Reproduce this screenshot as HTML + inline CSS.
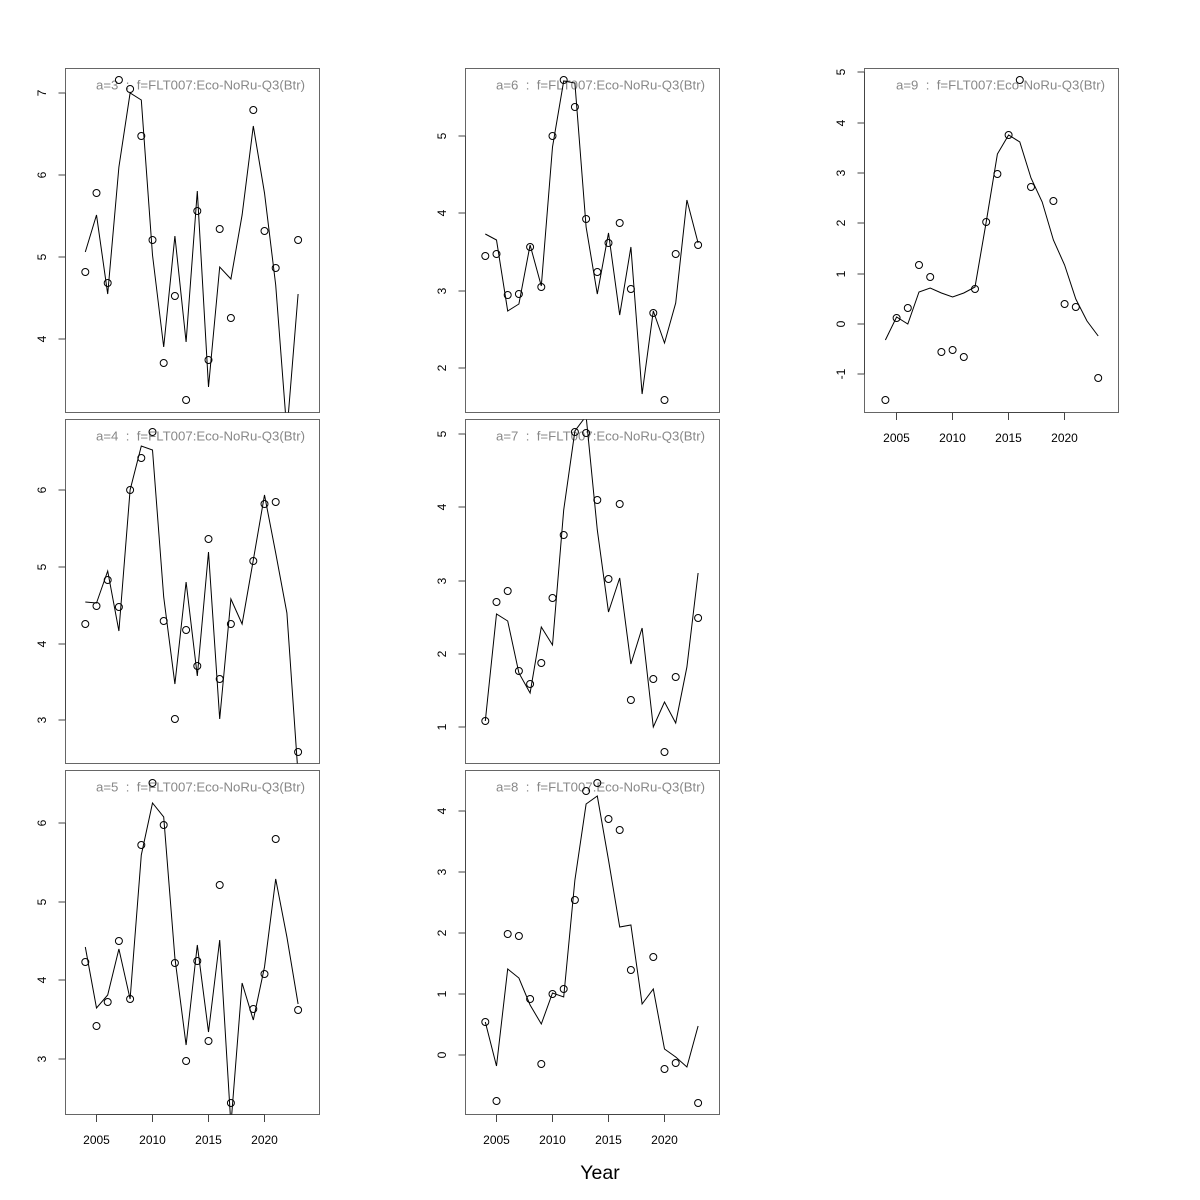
<!DOCTYPE html>
<html>
<head>
<meta charset="utf-8">
<style>
html,body{margin:0;padding:0;background:#fff;}
svg{display:block;}
text{font-family:"Liberation Sans",Arial,sans-serif;}
</style>
</head>
<body>
<svg width="1200" height="1200" viewBox="0 0 1200 1200" xmlns="http://www.w3.org/2000/svg">
<rect width="1200" height="1200" fill="#fff"/>
<defs>
<clipPath id="c3"><rect x="65.5" y="68.5" width="254" height="344"/></clipPath>
<clipPath id="c4"><rect x="65.5" y="419.5" width="254" height="344"/></clipPath>
<clipPath id="c5"><rect x="65.5" y="770.5" width="254" height="344"/></clipPath>
<clipPath id="c6"><rect x="465.5" y="68.5" width="254" height="344"/></clipPath>
<clipPath id="c7"><rect x="465.5" y="419.5" width="254" height="344"/></clipPath>
<clipPath id="c8"><rect x="465.5" y="770.5" width="254" height="344"/></clipPath>
<clipPath id="c9"><rect x="864.5" y="68.5" width="254" height="344"/></clipPath>
</defs>

<!-- Frames -->
<g fill="none" stroke="#666" stroke-width="1">
<rect x="65.5" y="68.5" width="254" height="344"/>
<rect x="65.5" y="419.5" width="254" height="344"/>
<rect x="65.5" y="770.5" width="254" height="344"/>
<rect x="465.5" y="68.5" width="254" height="344"/>
<rect x="465.5" y="419.5" width="254" height="344"/>
<rect x="465.5" y="770.5" width="254" height="344"/>
<rect x="864.5" y="68.5" width="254" height="344"/>
</g>

<!-- Y axes -->
<g stroke="#444" stroke-width="1" fill="none">
<path d="M65.5,93 V339 M58.5,93 H65.5 M58.5,175 H65.5 M58.5,257 H65.5 M58.5,339 H65.5"/>
<path d="M65.5,490 V720 M58.5,490 H65.5 M58.5,567 H65.5 M58.5,644 H65.5 M58.5,720 H65.5"/>
<path d="M65.5,823 V1059 M58.5,823 H65.5 M58.5,902 H65.5 M58.5,980 H65.5 M58.5,1059 H65.5"/>
<path d="M465.5,136 V368 M458.5,136 H465.5 M458.5,213 H465.5 M458.5,291 H465.5 M458.5,368 H465.5"/>
<path d="M465.5,434 V727 M458.5,434 H465.5 M458.5,507 H465.5 M458.5,581 H465.5 M458.5,654 H465.5 M458.5,727 H465.5"/>
<path d="M465.5,811 V1055 M458.5,811 H465.5 M458.5,872 H465.5 M458.5,933 H465.5 M458.5,994 H465.5 M458.5,1055 H465.5"/>
<path d="M864.5,72 V374 M857.5,72 H864.5 M857.5,123 H864.5 M857.5,173 H864.5 M857.5,223 H864.5 M857.5,274 H864.5 M857.5,324 H864.5 M857.5,374 H864.5"/>
</g>

<!-- X axes -->
<g stroke="#444" stroke-width="1" fill="none">
<path d="M96.5,1114.5 H264.5 M96.5,1114.5 V1122 M152.5,1114.5 V1122 M208.5,1114.5 V1122 M264.5,1114.5 V1122"/>
<path d="M496.5,1114.5 H664.5 M496.5,1114.5 V1122 M552.5,1114.5 V1122 M608.5,1114.5 V1122 M664.5,1114.5 V1122"/>
<path d="M896.5,412.5 H1064.5 M896.5,412.5 V420 M952.5,412.5 V420 M1008.5,412.5 V420 M1064.5,412.5 V420"/>
</g>

<!-- Y tick labels -->
<g font-size="12" fill="#000" text-anchor="middle">
<text transform="translate(46,93) rotate(-90)">7</text>
<text transform="translate(46,175) rotate(-90)">6</text>
<text transform="translate(46,257) rotate(-90)">5</text>
<text transform="translate(46,339) rotate(-90)">4</text>

<text transform="translate(46,490) rotate(-90)">6</text>
<text transform="translate(46,567) rotate(-90)">5</text>
<text transform="translate(46,644) rotate(-90)">4</text>
<text transform="translate(46,720) rotate(-90)">3</text>

<text transform="translate(46,823) rotate(-90)">6</text>
<text transform="translate(46,902) rotate(-90)">5</text>
<text transform="translate(46,980) rotate(-90)">4</text>
<text transform="translate(46,1059) rotate(-90)">3</text>

<text transform="translate(446,136) rotate(-90)">5</text>
<text transform="translate(446,213) rotate(-90)">4</text>
<text transform="translate(446,291) rotate(-90)">3</text>
<text transform="translate(446,368) rotate(-90)">2</text>

<text transform="translate(446,434) rotate(-90)">5</text>
<text transform="translate(446,507) rotate(-90)">4</text>
<text transform="translate(446,581) rotate(-90)">3</text>
<text transform="translate(446,654) rotate(-90)">2</text>
<text transform="translate(446,727) rotate(-90)">1</text>

<text transform="translate(446,811) rotate(-90)">4</text>
<text transform="translate(446,872) rotate(-90)">3</text>
<text transform="translate(446,933) rotate(-90)">2</text>
<text transform="translate(446,994) rotate(-90)">1</text>
<text transform="translate(446,1055) rotate(-90)">0</text>

<text transform="translate(845,72) rotate(-90)">5</text>
<text transform="translate(845,123) rotate(-90)">4</text>
<text transform="translate(845,173) rotate(-90)">3</text>
<text transform="translate(845,223) rotate(-90)">2</text>
<text transform="translate(845,274) rotate(-90)">1</text>
<text transform="translate(845,324) rotate(-90)">0</text>
<text transform="translate(845,374) rotate(-90)">-1</text>
</g>

<!-- X tick labels -->
<g font-size="12" fill="#000" text-anchor="middle">
<text x="96.5" y="1144">2005</text>
<text x="152.5" y="1144">2010</text>
<text x="208.5" y="1144">2015</text>
<text x="264.5" y="1144">2020</text>
<text x="496.5" y="1144">2005</text>
<text x="552.5" y="1144">2010</text>
<text x="608.5" y="1144">2015</text>
<text x="664.5" y="1144">2020</text>
<text x="896.5" y="442">2005</text>
<text x="952.5" y="442">2010</text>
<text x="1008.5" y="442">2015</text>
<text x="1064.5" y="442">2020</text>
</g>

<!-- Panel titles -->
<g font-size="12.5" fill="#888" text-anchor="end">
<text x="305" y="89.5" textLength="209" lengthAdjust="spacingAndGlyphs" xml:space="preserve">a=3  :  f=FLT007:Eco-NoRu-Q3(Btr)</text>
<text x="305" y="440.5" textLength="209" lengthAdjust="spacingAndGlyphs" xml:space="preserve">a=4  :  f=FLT007:Eco-NoRu-Q3(Btr)</text>
<text x="305" y="791.5" textLength="209" lengthAdjust="spacingAndGlyphs" xml:space="preserve">a=5  :  f=FLT007:Eco-NoRu-Q3(Btr)</text>
<text x="705" y="89.5" textLength="209" lengthAdjust="spacingAndGlyphs" xml:space="preserve">a=6  :  f=FLT007:Eco-NoRu-Q3(Btr)</text>
<text x="705" y="440.5" textLength="209" lengthAdjust="spacingAndGlyphs" xml:space="preserve">a=7  :  f=FLT007:Eco-NoRu-Q3(Btr)</text>
<text x="705" y="791.5" textLength="209" lengthAdjust="spacingAndGlyphs" xml:space="preserve">a=8  :  f=FLT007:Eco-NoRu-Q3(Btr)</text>
<text x="1105" y="89.5" textLength="209" lengthAdjust="spacingAndGlyphs" xml:space="preserve">a=9  :  f=FLT007:Eco-NoRu-Q3(Btr)</text>
</g>

<!-- a=3 -->
<g clip-path="url(#c3)">
<g transform="translate(85.3,0)" fill="none" stroke="#000" stroke-width="1">
<polyline points="0,252 11.2,215 22.4,294 33.6,167 44.8,93 56,100 67.2,255 78.4,347 89.6,236 100.8,342 112,191 123.2,387 134.4,267 145.6,279 156.8,215 168,126 179.2,193 190.4,285 201.6,432 212.8,294"/>
<circle cx="0" cy="272" r="3.5"/><circle cx="11.2" cy="193" r="3.5"/><circle cx="22.4" cy="283" r="3.5"/><circle cx="33.6" cy="80" r="3.5"/><circle cx="44.8" cy="89" r="3.5"/><circle cx="56" cy="136" r="3.5"/><circle cx="67.2" cy="240" r="3.5"/><circle cx="78.4" cy="363" r="3.5"/><circle cx="89.6" cy="296" r="3.5"/><circle cx="100.8" cy="400" r="3.5"/><circle cx="112" cy="211" r="3.5"/><circle cx="123.2" cy="360" r="3.5"/><circle cx="134.4" cy="229" r="3.5"/><circle cx="145.6" cy="318" r="3.5"/><circle cx="168" cy="110" r="3.5"/><circle cx="179.2" cy="231" r="3.5"/><circle cx="190.4" cy="268" r="3.5"/><circle cx="212.8" cy="240" r="3.5"/>
</g></g>

<!-- a=4 -->
<g clip-path="url(#c4)">
<g transform="translate(85.3,0)" fill="none" stroke="#000" stroke-width="1">
<polyline points="0,602 11.2,603 22.4,571 33.6,631 44.8,490 56,446 67.2,450 78.4,597 89.6,684 100.8,582 112,676 123.2,552 134.4,719 145.6,599 156.8,624 168,560 179.2,495 190.4,553 201.6,613 212.8,775"/>
<circle cx="0" cy="624" r="3.5"/><circle cx="11.2" cy="606" r="3.5"/><circle cx="22.4" cy="580" r="3.5"/><circle cx="33.6" cy="607" r="3.5"/><circle cx="44.8" cy="490" r="3.5"/><circle cx="56" cy="458" r="3.5"/><circle cx="67.2" cy="432" r="3.5"/><circle cx="78.4" cy="621" r="3.5"/><circle cx="89.6" cy="719" r="3.5"/><circle cx="100.8" cy="630" r="3.5"/><circle cx="112" cy="666" r="3.5"/><circle cx="123.2" cy="539" r="3.5"/><circle cx="134.4" cy="679" r="3.5"/><circle cx="145.6" cy="624" r="3.5"/><circle cx="168" cy="561" r="3.5"/><circle cx="179.2" cy="504" r="3.5"/><circle cx="190.4" cy="502" r="3.5"/><circle cx="212.8" cy="752" r="3.5"/>
</g></g>

<!-- a=5 -->
<g clip-path="url(#c5)">
<g transform="translate(85.3,0)" fill="none" stroke="#000" stroke-width="1">
<polyline points="0,947 11.2,1008 22.4,995 33.6,949 44.8,999 56,855 67.2,803 78.4,817 89.6,958 100.8,1045 112,945 123.2,1032 134.4,940 145.6,1125 156.8,983 168,1020 179.2,967 190.4,879 201.6,937 212.8,1004"/>
<circle cx="0" cy="962" r="3.5"/><circle cx="11.2" cy="1026" r="3.5"/><circle cx="22.4" cy="1002" r="3.5"/><circle cx="33.6" cy="941" r="3.5"/><circle cx="44.8" cy="999" r="3.5"/><circle cx="56" cy="845" r="3.5"/><circle cx="67.2" cy="783" r="3.5"/><circle cx="78.4" cy="825" r="3.5"/><circle cx="89.6" cy="963" r="3.5"/><circle cx="100.8" cy="1061" r="3.5"/><circle cx="112" cy="961" r="3.5"/><circle cx="123.2" cy="1041" r="3.5"/><circle cx="134.4" cy="885" r="3.5"/><circle cx="145.6" cy="1103" r="3.5"/><circle cx="168" cy="1009" r="3.5"/><circle cx="179.2" cy="974" r="3.5"/><circle cx="190.4" cy="839" r="3.5"/><circle cx="212.8" cy="1010" r="3.5"/>
</g></g>

<!-- a=6 -->
<g clip-path="url(#c6)">
<g transform="translate(485.3,0)" fill="none" stroke="#000" stroke-width="1">
<polyline points="0,234 11.2,240 22.4,311 33.6,304 44.8,245 56,286 67.2,147 78.4,81 89.6,83 100.8,227 112,294 123.2,233 134.4,315 145.6,247 156.8,394 168,311 179.2,343 190.4,303 201.6,200 212.8,243"/>
<circle cx="0" cy="256" r="3.5"/><circle cx="11.2" cy="254" r="3.5"/><circle cx="22.4" cy="295" r="3.5"/><circle cx="33.6" cy="294" r="3.5"/><circle cx="44.8" cy="247" r="3.5"/><circle cx="56" cy="287" r="3.5"/><circle cx="67.2" cy="136" r="3.5"/><circle cx="78.4" cy="80" r="3.5"/><circle cx="89.6" cy="107" r="3.5"/><circle cx="100.8" cy="219" r="3.5"/><circle cx="112" cy="272" r="3.5"/><circle cx="123.2" cy="243" r="3.5"/><circle cx="134.4" cy="223" r="3.5"/><circle cx="145.6" cy="289" r="3.5"/><circle cx="168" cy="313" r="3.5"/><circle cx="179.2" cy="400" r="3.5"/><circle cx="190.4" cy="254" r="3.5"/><circle cx="212.8" cy="245" r="3.5"/>
</g></g>

<!-- a=7 -->
<g clip-path="url(#c7)">
<g transform="translate(485.3,0)" fill="none" stroke="#000" stroke-width="1">
<polyline points="0,721 11.2,614 22.4,621 33.6,673 44.8,693 56,627 67.2,645 78.4,510 89.6,431 100.8,416 112,530 123.2,612 134.4,578 145.6,664 156.8,628 168,727 179.2,702 190.4,723 201.6,667 212.8,573"/>
<circle cx="0" cy="721" r="3.5"/><circle cx="11.2" cy="602" r="3.5"/><circle cx="22.4" cy="591" r="3.5"/><circle cx="33.6" cy="671" r="3.5"/><circle cx="44.8" cy="684" r="3.5"/><circle cx="56" cy="663" r="3.5"/><circle cx="67.2" cy="598" r="3.5"/><circle cx="78.4" cy="535" r="3.5"/><circle cx="89.6" cy="432" r="3.5"/><circle cx="100.8" cy="433" r="3.5"/><circle cx="112" cy="500" r="3.5"/><circle cx="123.2" cy="579" r="3.5"/><circle cx="134.4" cy="504" r="3.5"/><circle cx="145.6" cy="700" r="3.5"/><circle cx="168" cy="679" r="3.5"/><circle cx="179.2" cy="752" r="3.5"/><circle cx="190.4" cy="677" r="3.5"/><circle cx="212.8" cy="618" r="3.5"/>
</g></g>

<!-- a=8 -->
<g clip-path="url(#c8)">
<g transform="translate(485.3,0)" fill="none" stroke="#000" stroke-width="1">
<polyline points="0,1022 11.2,1066 22.4,969 33.6,978 44.8,1005 56,1024 67.2,993 78.4,997 89.6,880 100.8,804 112,796 123.2,860 134.4,927 145.6,925 156.8,1004 168,989 179.2,1049 190.4,1057 201.6,1067 212.8,1026"/>
<circle cx="0" cy="1022" r="3.5"/><circle cx="11.2" cy="1101" r="3.5"/><circle cx="22.4" cy="934" r="3.5"/><circle cx="33.6" cy="936" r="3.5"/><circle cx="44.8" cy="999" r="3.5"/><circle cx="56" cy="1064" r="3.5"/><circle cx="67.2" cy="994" r="3.5"/><circle cx="78.4" cy="989" r="3.5"/><circle cx="89.6" cy="900" r="3.5"/><circle cx="100.8" cy="791" r="3.5"/><circle cx="112" cy="783" r="3.5"/><circle cx="123.2" cy="819" r="3.5"/><circle cx="134.4" cy="830" r="3.5"/><circle cx="145.6" cy="970" r="3.5"/><circle cx="168" cy="957" r="3.5"/><circle cx="179.2" cy="1069" r="3.5"/><circle cx="190.4" cy="1063" r="3.5"/><circle cx="212.8" cy="1103" r="3.5"/>
</g></g>

<!-- a=9 -->
<g clip-path="url(#c9)">
<g transform="translate(885.4,0)" fill="none" stroke="#000" stroke-width="1">
<polyline points="0,340 11.2,317 22.4,324 33.6,292 44.8,288 56,293 67.2,297 78.4,293 89.6,287 100.8,222 112,154 123.2,135 134.4,142 145.6,178 156.8,202 168,240 179.2,265 190.4,299 201.6,321 212.8,336"/>
<circle cx="0" cy="400" r="3.5"/><circle cx="11.2" cy="318" r="3.5"/><circle cx="22.4" cy="308" r="3.5"/><circle cx="33.6" cy="265" r="3.5"/><circle cx="44.8" cy="277" r="3.5"/><circle cx="56" cy="352" r="3.5"/><circle cx="67.2" cy="350" r="3.5"/><circle cx="78.4" cy="357" r="3.5"/><circle cx="89.6" cy="289" r="3.5"/><circle cx="100.8" cy="222" r="3.5"/><circle cx="112" cy="174" r="3.5"/><circle cx="123.2" cy="135" r="3.5"/><circle cx="134.4" cy="80" r="3.5"/><circle cx="145.6" cy="187" r="3.5"/><circle cx="168" cy="201" r="3.5"/><circle cx="179.2" cy="304" r="3.5"/><circle cx="190.4" cy="307" r="3.5"/><circle cx="212.8" cy="378" r="3.5"/>
</g></g>

<!-- X axis title -->
<text x="600" y="1179" font-size="19.5" text-anchor="middle" fill="#000">Year</text>
</svg>
</body>
</html>
